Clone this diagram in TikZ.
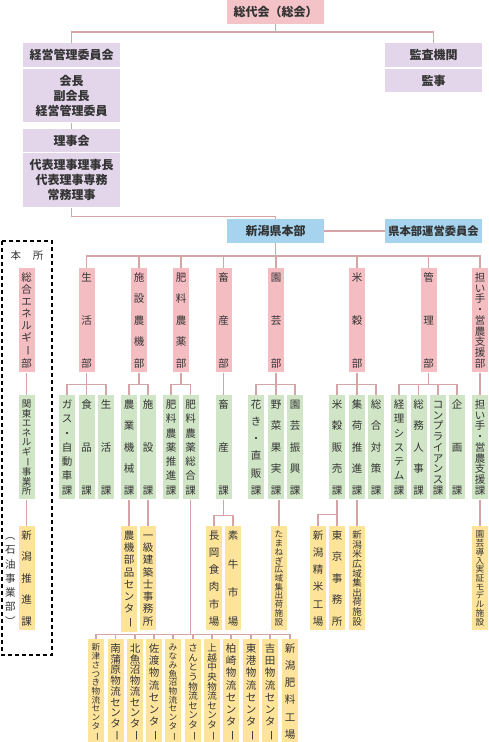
\documentclass[tikz,border=0pt]{standalone}
\usepackage{fontspec}
\setmainfont{Noto Sans CJK JP}
\usepackage{graphicx}
\usetikzlibrary{positioning}
\definecolor{sokaipink}{HTML}{F3C3C7}
\definecolor{yakuinlav}{HTML}{E3D6EA}
\definecolor{honbublue}{HTML}{A6D4EF}
\definecolor{bupink}{HTML}{F4BDC2}
\definecolor{kagreen}{HTML}{CFE5C5}
\definecolor{shisetsuyellow}{HTML}{FEE49B}
\definecolor{senpink}{HTML}{D4A4A7}
\definecolor{moji}{HTML}{333333}

% vertical text, spread over the box
\newcount\tatenum
\newdimen\tatesize
\def\tateend{\relax tateend}
\def\cho{\rotatebox[origin=c]{-90}{ー}}
\def\tatecnt#1{\ifx#1\tateend\else\advance\tatenum by 1\relax\expandafter\tatecnt\fi}
\def\tatechar#1{\hbox to\tatesize{\vrule height.88\tatesize depth.12\tatesize width0pt\hss#1\hss}}
\def\tatemore#1{\ifx#1\tateend\else\vfill\tatechar{#1}\expandafter\tatemore\fi}
\def\tatefirst#1{\tatechar{#1}\tatemore}
\newcommand\tate[2][95pt]{%
  \tatenum=0 \tatecnt#2\tateend
  \tatesize=#1\relax\divide\tatesize by\tatenum
  \ifdim\tatesize>10.5pt\tatesize=10.5pt\fi
  \fontsize{\the\tatesize}{\the\tatesize}\selectfont
  \vbox to#1{\offinterlineskip\tatefirst#2\tateend}}

\begin{document}
\begin{tikzpicture}[
    x=1pt, y=-1pt,
    box/.style={fill=yakuinlav, minimum width=97pt, inner sep=0pt, align=center,
                font=\bfseries\fontsize{12}{15}\selectfont, text=moji},
    tatebox/.style={minimum width=16pt, minimum height=103pt, inner xsep=0pt,
                    inner ysep=4pt, anchor=north, text=moji},
    bu/.style={tatebox, fill=bupink},
    ka/.style={tatebox, fill=kagreen},
    shisetsu/.style={tatebox, fill=shisetsuyellow},
    link/.style={draw=senpink, line width=1.2pt},
]
\useasboundingbox (0,0) rectangle (488,742);

\node[box, minimum height=24pt, fill=sokaipink] (sodaikai) at (275.5,12) {総代会（総会）};
\node[box, minimum height=24pt] (keiei) at (71.5,55) {経営管理委員会};
\node[box, minimum height=53pt, below=2pt of keiei] (yakuin) {会長\\副会長\\経営管理委員};
\node[box, minimum height=23pt] (rijikai) at (71.5,140.5) {理事会};
\node[box, minimum height=54pt, below=1pt of rijikai] (riji) {代表理事理事長\\代表理事専務\\常務理事};
\node[box, minimum height=24pt] (kansa) at (433.5,55) {監査機関};
\node[box, minimum height=23pt, below=2pt of kansa] (kanji) {監事};
\node[box, minimum height=24pt, fill=honbublue] (honbu) at (275.5,231) {新潟県本部};
\node[box, minimum height=24pt, fill=honbublue,
      font=\bfseries\fontsize{11.3}{14}\selectfont] (unei) at (433.5,231) {県本部運営委員会};

\coordinate (sodaibar) at (275.5,32);
\draw[link] (sodaikai) -- (sodaibar);
\draw[link] (keiei) |- (sodaibar) -| (kansa);
\draw[link] (yakuin) -- (rijikai);
\draw[link] (riji.south) -- ++(0,9) -| (honbu);
\draw[link] (honbu) -- (unei);

% honsho
\draw[line width=1.5pt, dash pattern=on 4pt off 3pt] (2,241) rectangle (52,655);
\node[font=\fontsize{10.5}{12}\selectfont, text=moji] (honsho) at (27,256) {本\hspace{1.1em}所};
\node[anchor=north, inner sep=0pt, text=moji] (sekiyu) at (10.5,530) {\tate{︵石油事業部︶}};

% bu
\node[bu] (energy) at (26.5,268) {\tate{総合エネルギ\cho 部}};
\node[bu] (seikatsu) at (86.5,268) {\tate{生活部}};
\node[bu] (shisetsu) at (139,268) {\tate{施設農機部}};
\node[bu] (hiryo) at (181,268) {\tate{肥料農薬部}};
\node[bu] (chikusan) at (223.5,268) {\tate{畜産部}};
\node[bu] (engei) at (276,268) {\tate{園芸部}};
\node[bu] (beikoku) at (357,268) {\tate{米穀部}};
\node[bu] (kanri) at (428.5,268) {\tate{管理部}};
\node[bu] (ninaite) at (480,268) {\tate{担い手・営農支援部}};

\coordinate (bubar) at (275.5,256);
\draw[link] (honbu) -- (bubar);
\foreach \b in {seikatsu, shisetsu, hiryo, chikusan, engei, beikoku, kanri, ninaite}
  \draw[link] (\b) |- (bubar);

% ka
\node[ka] (kanto) at (26.5,395) {\tate{関東エネルギ\cho 事業所}};
\node[ka] (gas) at (67,395) {\tate{ガス・自動車課}};
\node[ka] (shokuhin) at (86.5,395) {\tate{食品課}};
\node[ka] (seikatsuka) at (106,395) {\tate{生活課}};
\node[ka] (nogyokikai) at (129,395) {\tate{農業機械課}};
\node[ka] (shisetsuka) at (148,395) {\tate{施設課}};
\node[ka] (hiryosuishin) at (171,395) {\tate{肥料農薬推進課}};
\node[ka] (hiryosogo) at (190.5,395) {\tate{肥料農薬総合課}};
\node[ka] (chikusanka) at (223.5,395) {\tate{畜産課}};
\node[ka] (kaki) at (256,395) {\tate{花き・直販課}};
\node[ka] (yasai) at (276,395) {\tate{野菜果実課}};
\node[ka] (engeishinko) at (295,395) {\tate{園芸振興課}};
\node[ka] (beihan) at (337,395) {\tate{米穀販売課}};
\node[ka] (shuka) at (357,395) {\tate{集荷推進課}};
\node[ka] (sogotaisaku) at (376,395) {\tate{総合対策課}};
\node[ka] (keiri) at (399,395) {\tate{経理システム課}};
\node[ka] (somu) at (418.5,395) {\tate{総務人事課}};
\node[ka] (compliance) at (438,395) {\tate{コンプライアンス課}};
\node[ka] (kikaku) at (457,395) {\tate{企画課}};
\node[ka] (ninaiteka) at (480,395) {\tate{担い手・営農支援課}};

\draw[link] (energy) -- (kanto);
\foreach \k in {gas, shokuhin, seikatsuka}
  \draw[link] (seikatsu.south) -- ++(0,12) -| (\k);
\foreach \k in {nogyokikai, shisetsuka}
  \draw[link] (shisetsu.south) -- ++(0,12) -| (\k);
\foreach \k in {hiryosuishin, hiryosogo}
  \draw[link] (hiryo.south) -- ++(0,12) -| (\k);
\draw[link] (chikusan) -- (chikusanka);
\foreach \k in {kaki, yasai, engeishinko}
  \draw[link] (engei.south) -- ++(0,12) -| (\k);
\foreach \k in {beihan, shuka, sogotaisaku}
  \draw[link] (beikoku.south) -- ++(0,12) -| (\k);
\foreach \k in {keiri, somu, compliance, kikaku}
  \draw[link] (kanri.south) -- ++(0,12) -| (\k);
\draw[link] (ninaite) -- (ninaiteka);

% shisetsu
\node[shisetsu] (niigatasuishin) at (26.5,526) {\tate{新潟推進課}};
\node[shisetsu] (nokibuhin) at (129,526) {\tate{農機部品センタ\cho}};
\node[shisetsu] (ikkyu) at (148,526) {\tate{一級建築士事務所}};
\node[shisetsu] (nagaoka) at (214,526) {\tate{長岡食肉市場}};
\node[shisetsu] (motoushi) at (233,526) {\tate{素牛市場}};
\node[shisetsu] (tamanegi) at (279,526) {\tate{たまねぎ広域集出荷施設}};
\node[shisetsu] (seimai) at (318,526) {\tate{新潟精米工場}};
\node[shisetsu] (tokyo) at (337,526) {\tate{東京事務所}};
\node[shisetsu] (koiki) at (357,526) {\tate{新潟米広域集出荷施設}};
\node[shisetsu] (model) at (480,526) {\tate{園芸導入実証モデル施設}};

\draw[link] (kanto) -- (niigatasuishin);
\draw[link] (nogyokikai) -- (nokibuhin);
\draw[link] (shisetsuka) -- (ikkyu);
\foreach \k in {nagaoka, motoushi}
  \draw[link] (chikusanka.south) -- ++(0,16) -| (\k);
\draw[link] (tamanegi) -- (tamanegi |- yasai.south);
\foreach \k in {seimai, tokyo}
  \draw[link] (beihan.south) -- ++(0,15) -| (\k);
\draw[link] (shuka) -- (koiki);
\draw[link] (ninaiteka) -- (model);

% butsuryu
\node[shisetsu] (niitsu) at (96,639) {\tate{新津さつき物流センタ\cho}};
\node[shisetsu] (minamikanbara) at (115.5,639) {\tate{南蒲原物流センタ\cho}};
\node[shisetsu] (kitauonuma) at (135,639) {\tate{北魚沼物流センタ\cho}};
\node[shisetsu] (sado) at (154,639) {\tate{佐渡物流センタ\cho}};
\node[shisetsu] (minamiuonuma) at (173,639) {\tate{みなみ魚沼物流センタ\cho}};
\node[shisetsu] (santo) at (193,639) {\tate{さんとう物流センタ\cho}};
\node[shisetsu] (joetsu) at (212,639) {\tate{上越中央物流センタ\cho}};
\node[shisetsu] (kashiwazaki) at (231,639) {\tate{柏崎物流センタ\cho}};
\node[shisetsu] (toko) at (251,639) {\tate{東港物流センタ\cho}};
\node[shisetsu] (yoshida) at (270,639) {\tate{吉田物流センタ\cho}};
\node[shisetsu] (hiryokojo) at (290,639) {\tate{新潟肥料工場}};

\foreach \k in {niitsu, minamikanbara, kitauonuma, sado, minamiuonuma, santo,
                joetsu, kashiwazaki, toko, yoshida, hiryokojo}
  \draw[link] (hiryosogo.south) -- ++(0,135) -| (\k);

\end{tikzpicture}
\end{document}
